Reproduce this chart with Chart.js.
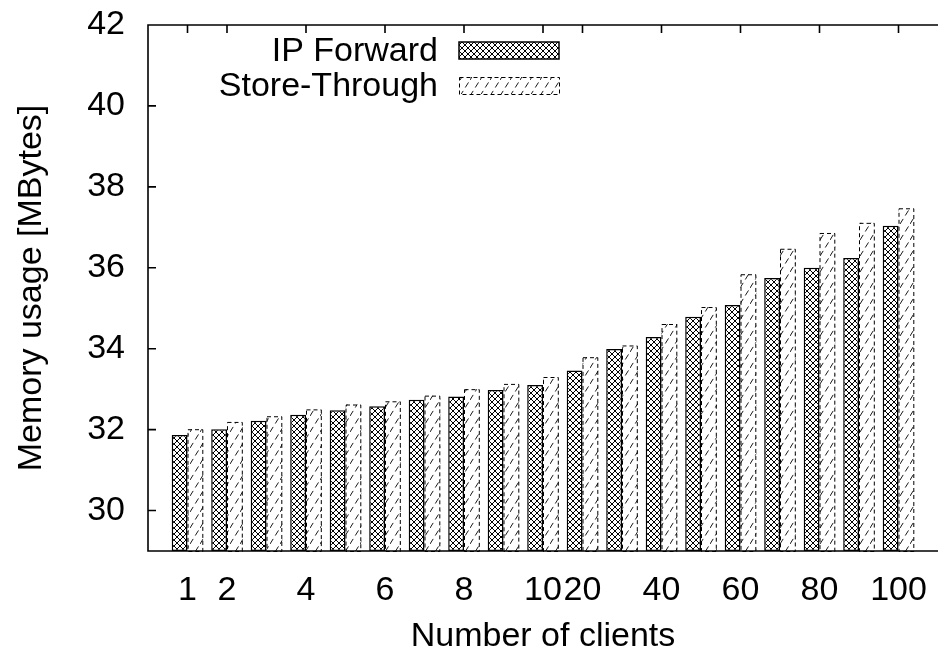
<!DOCTYPE html>
<html>
<head>
<meta charset="utf-8">
<script src="https://cdn.jsdelivr.net/npm/chart.js@4.4.0/dist/chart.umd.min.js"></script>
<style>
  html, body { margin: 0; padding: 0; background: #fff; }
</style>
</head>
<body>
<canvas id="memChart" width="938" height="657"></canvas>
<script>
// number of clients per group, and which of them get a label
const clients = ['1', '2', '3', '4', '5', '6', '7', '8', '9', '10', '20', '30', '40', '50', '60', '70', '80', '90', '100'];
const shownTicks = ['1', '2', '4', '6', '8', '10', '20', '40', '60', '80', '100'];

// memory usage in MBytes
const ipForward = [31.87, 32.01, 32.22, 32.37, 32.48, 32.58, 32.74, 32.82, 32.98, 33.10, 33.46, 33.99, 34.29, 34.79, 35.08, 35.75, 36.00, 36.24, 37.04];
const storeThrough = [32.01, 32.19, 32.33, 32.50, 32.62, 32.70, 32.84, 33.00, 33.13, 33.30, 33.79, 34.08, 34.61, 35.03, 35.84, 36.47, 36.86, 37.11, 37.47];

const yTicks = [30, 32, 34, 36, 38, 40, 42];

const font = { family: "'Liberation Sans', Arial, sans-serif", size: 34 };

// cross-hatched fill for IP Forward
function crossHatch() {
    const c = document.createElement('canvas');
    c.width = 6; c.height = 6;
    const g = c.getContext('2d');
    g.fillStyle = '#fff';
    g.fillRect(0, 0, 6, 6);
    g.strokeStyle = '#000';
    g.lineWidth = 1;
    g.beginPath();
    g.moveTo(-1, -1); g.lineTo(7, 7);
    g.moveTo(-1, 7); g.lineTo(7, -1);
    g.stroke();
    return g.createPattern(c, 'repeat');
}

// dashed diagonal fill for Store-Through
function dashHatch() {
    const c = document.createElement('canvas');
    c.width = 10; c.height = 16;
    const g = c.getContext('2d');
    g.fillStyle = '#fff';
    g.fillRect(0, 0, 10, 16);
    g.strokeStyle = '#000';
    g.lineWidth = 0.9;
    g.setLineDash([6, 4]);
    g.beginPath();
    g.moveTo(0, 16); g.lineTo(10, 0);
    g.stroke();
    return g.createPattern(c, 'repeat');
}

// pad the category axis with an empty slot on each side
const labels = ['', ...clients, ''];
const padded = arr => [null, ...arr, null];

function dashedRect(ctx, x0, y0, w, h) {
    ctx.save();
    ctx.strokeStyle = '#000';
    ctx.lineWidth = 1;
    ctx.setLineDash([4, 3]);
    ctx.strokeRect(x0 + 0.5, y0 + 0.5, w - 1, h - 1);
    ctx.restore();
}

const framePlugin = {
    id: 'frame',
    afterDatasetsDraw(chart) {
        const { ctx, chartArea: a, scales: { x, y } } = chart;

        // dashed outlines on the Store-Through bars
        chart.getDatasetMeta(1).data.forEach((bar, i) => {
            if (chart.data.datasets[1].data[i] == null) return;
            const p = bar.getProps(['x', 'y', 'base', 'width'], true);
            dashedRect(ctx, p.x - p.width / 2, p.y, p.width, Math.min(p.base, a.bottom) - p.y + 1);
        });

        ctx.save();
        ctx.strokeStyle = '#000';
        ctx.lineWidth = 1.6;
        ctx.beginPath();
        ctx.moveTo(a.right, a.top); ctx.lineTo(a.left, a.top);
        ctx.lineTo(a.left, a.bottom); ctx.lineTo(a.right, a.bottom);
        // inward y ticks
        yTicks.forEach(v => {
            const py = y.getPixelForValue(v);
            ctx.moveTo(a.left, py); ctx.lineTo(a.left + 8, py);
        });
        // inward ticks on the top border
        labels.forEach((l, i) => {
            if (!shownTicks.includes(l)) return;
            const px = x.getPixelForValue(i);
            ctx.moveTo(px, a.top); ctx.lineTo(px, a.top + 8);
        });
        ctx.stroke();
        ctx.restore();
    },
    afterDraw(chart) {
        const { ctx } = chart;
        const rows = [50.5, 85.5];
        ctx.save();
        ctx.font = `${font.size}px ${font.family}`;
        ctx.textAlign = 'right';
        ctx.textBaseline = 'middle';
        chart.data.datasets.forEach((ds, i) => {
            const cy = rows[i];
            ctx.fillStyle = '#000';
            ctx.fillText(ds.label, 438, cy + 1);
            ctx.fillStyle = ds.backgroundColor;
            ctx.fillRect(459, cy - 8.5, 100, 17);
            if (i === 0) {
                ctx.strokeStyle = '#000';
                ctx.lineWidth = 1.5;
                ctx.strokeRect(459, cy - 8.5, 100, 17);
            } else {
                dashedRect(ctx, 459, cy - 8.5, 101, 18);
            }
        });
        ctx.restore();
    }
};

new Chart(document.getElementById('memChart').getContext('2d'), {
    type: 'bar',
    data: {
        labels: labels,
        datasets: [{
            label: 'IP Forward',
            data: padded(ipForward),
            backgroundColor: crossHatch(),
            borderColor: '#000',
            borderWidth: 1.5,
            borderSkipped: false,
            base: 29
        }, {
            label: 'Store-Through',
            data: padded(storeThrough),
            backgroundColor: dashHatch(),
            borderWidth: 0,
            base: 29
        }]
    },
    options: {
        responsive: false,
        animation: false,
        layout: { padding: { top: 25, right: 0, left: 0, bottom: 0 } },
        datasets: { bar: { categoryPercentage: 0.8, barPercentage: 1.0 } },
        plugins: { legend: { display: false }, tooltip: { enabled: false } },
        scales: {
            x: {
                type: 'category',
                offset: false,
                grid: { display: false, drawTicks: false },
                border: { display: false },
                ticks: {
                    autoSkip: false,
                    maxRotation: 0,
                    minRotation: 0,
                    padding: 19,
                    color: '#000',
                    font: font,
                    callback: function (v) {
                        const l = this.getLabelForValue(v);
                        return shownTicks.includes(l) ? l : '';
                    }
                },
                title: { display: true, text: 'Number of clients', color: '#000', font: font, padding: { top: 3, bottom: 0 } },
                afterFit(s) {
                    s.height = 106;
                    s.paddingLeft = 0;
                    s.paddingRight = 0;
                }
            },
            y: {
                min: 29,
                max: 42,
                grid: { display: false, drawTicks: false },
                border: { display: false },
                afterBuildTicks(s) { s.ticks = yTicks.map(v => ({ value: v })); },
                ticks: { padding: 23, color: '#000', font: font },
                title: { display: true, text: 'Memory usage [MBytes]', color: '#000', font: font, padding: { top: 11, bottom: 0 } },
                afterFit(s) {
                    s.width = 148;
                    s.paddingTop = 0;
                    s.paddingBottom = 0;
                }
            }
        }
    },
    plugins: [framePlugin]
});
</script>
</body>
</html>
